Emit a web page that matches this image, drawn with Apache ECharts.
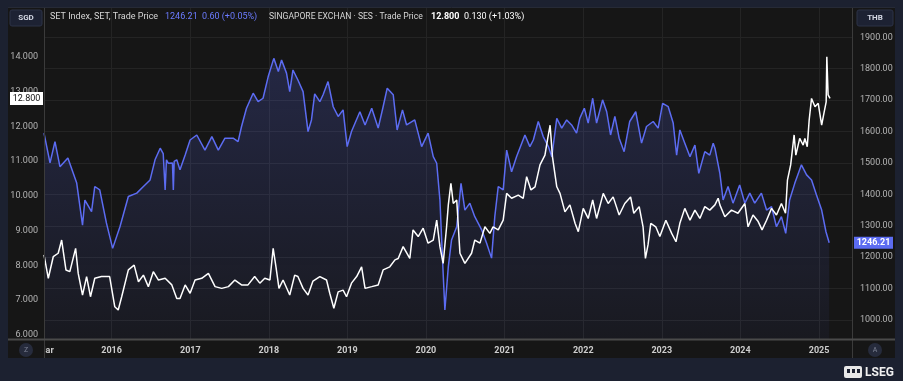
<!DOCTYPE html>
<html><head><meta charset="utf-8">
<script src="https://cdn.jsdelivr.net/npm/echarts@6/dist/echarts.min.js"></script>
<style>
html,body{margin:0;padding:0;background:#1c2130;overflow:hidden;}
#panel{position:absolute;left:8px;top:7px;width:887px;height:351px;background:#161616;}
#chart{position:absolute;left:0;top:0;width:903px;height:381px;}
</style></head><body>
<div id="panel"></div><div id="chart"></div>
<script>
// SET Index (THB, right axis)
const setDates = ['2015-02-21','2015-03-21','2015-04-13','2015-05-06','2015-06-12','2015-07-23','2015-08-19','2015-08-30','2015-09-30','2015-10-15','2015-11-07','2015-12-08','2016-01-06','2016-02-09','2016-03-19','2016-04-27','2016-05-28','2016-06-28','2016-07-21','2016-08-14','2016-08-28','2016-09-06','2016-09-12','2016-09-21','2016-10-10','2016-10-14','2016-10-18','2016-10-30','2016-11-14','2016-12-08','2016-12-31','2017-01-31','2017-03-10','2017-04-11','2017-05-11','2017-06-11','2017-07-19','2017-08-11','2017-08-27','2017-09-19','2017-10-20','2017-11-12','2017-12-05','2017-12-29','2018-01-24','2018-02-14','2018-03-01','2018-03-24','2018-04-08','2018-04-23','2018-05-16','2018-06-09','2018-07-02','2018-07-18','2018-08-02','2018-08-26','2018-09-10','2018-10-03','2018-10-27','2018-11-19','2018-12-12','2018-12-31','2019-01-20','2019-02-28','2019-03-24','2019-04-24','2019-05-24','2019-06-16','2019-07-05','2019-08-02','2019-08-20','2019-09-14','2019-10-03','2019-11-10','2019-12-12','2020-01-11','2020-02-04','2020-02-20','2020-03-06','2020-03-21','2020-03-29','2020-04-14','2020-04-29','2020-05-23','2020-06-12','2020-06-30','2020-07-23','2020-08-15','2020-09-16','2020-10-09','2020-11-01','2020-11-16','2020-12-02','2020-12-25','2021-01-10','2021-02-02','2021-02-25','2021-04-05','2021-04-28','2021-05-14','2021-06-06','2021-06-29','2021-07-23','2021-08-08','2021-08-31','2021-09-23','2021-10-16','2021-11-08','2021-12-01','2021-12-16','2022-01-06','2022-01-24','2022-02-14','2022-03-04','2022-04-01','2022-04-20','2022-05-08','2022-05-28','2022-06-17','2022-07-10','2022-08-05','2022-09-02','2022-09-29','2022-10-22','2022-11-22','2022-12-15','2023-01-05','2023-01-31','2023-02-23','2023-03-11','2023-03-26','2023-04-18','2023-05-12','2023-06-04','2023-06-22','2023-07-20','2023-08-12','2023-08-28','2023-09-05','2023-09-28','2023-10-13','2023-11-05','2023-11-28','2023-12-29','2024-01-22','2024-02-14','2024-03-08','2024-04-08','2024-05-02','2024-05-25','2024-06-17','2024-07-10','2024-07-30','2024-08-17','2024-09-10','2024-10-11','2024-11-04','2024-11-27','2024-12-20','2025-01-13','2025-02-02','2025-02-17'];
const setValues = [1595,1500,1568,1488,1516,1436,1302,1382,1345,1425,1414,1309,1228,1297,1393,1404,1425,1446,1510,1547,1530,1414,1510,1499,1500,1414,1505,1510,1478,1525,1573,1589,1541,1584,1541,1579,1579,1568,1616,1674,1722,1695,1706,1775,1833,1791,1828,1786,1727,1796,1764,1727,1600,1637,1720,1695,1717,1759,1679,1648,1669,1552,1600,1663,1621,1674,1611,1679,1738,1717,1605,1669,1621,1637,1552,1595,1520,1499,1382,1149,1032,1170,1255,1297,1435,1350,1372,1329,1287,1244,1197,1329,1425,1414,1541,1472,1520,1589,1552,1573,1632,1584,1552,1520,1642,1611,1637,1621,1595,1642,1674,1627,1706,1627,1701,1663,1589,1648,1579,1536,1632,1663,1563,1616,1632,1611,1690,1679,1627,1525,1605,1563,1520,1557,1467,1536,1525,1563,1547,1467,1382,1425,1372,1430,1372,1404,1372,1404,1350,1361,1297,1329,1276,1382,1435,1494,1462,1446,1398,1350,1281,1246.21];

// Singapore Exchange (SGD, left axis)
const sgxDates = ['2015-02-21','2015-03-13','2015-04-05','2015-04-28','2015-05-14','2015-06-03','2015-06-21','2015-07-18','2015-07-30','2015-08-19','2015-09-07','2015-09-25','2015-10-15','2015-11-15','2015-12-23','2016-01-16','2016-02-01','2016-02-17','2016-03-19','2016-04-15','2016-05-05','2016-05-28','2016-06-20','2016-07-13','2016-08-06','2016-09-06','2016-10-07','2016-10-30','2016-11-14','2016-12-08','2016-12-31','2017-01-23','2017-02-23','2017-03-26','2017-04-26','2017-05-27','2017-06-27','2017-07-27','2017-08-27','2017-09-26','2017-10-27','2017-11-20','2017-12-13','2018-01-06','2018-01-21','2018-02-03','2018-02-17','2018-03-08','2018-04-08','2018-05-01','2018-05-16','2018-06-09','2018-07-02','2018-07-10','2018-07-25','2018-08-26','2018-09-26','2018-10-11','2018-10-30','2018-11-19','2018-12-12','2018-12-28','2019-01-20','2019-02-13','2019-03-08','2019-03-24','2019-04-24','2019-05-24','2019-06-16','2019-07-17','2019-08-10','2019-08-25','2019-09-17','2019-10-18','2019-11-02','2019-11-26','2019-12-19','2020-01-11','2020-02-04','2020-02-20','2020-03-06','2020-03-21','2020-04-06','2020-04-14','2020-04-26','2020-05-07','2020-05-23','2020-06-07','2020-06-30','2020-07-31','2020-08-15','2020-09-08','2020-10-01','2020-10-24','2020-11-08','2020-12-02','2020-12-25','2021-01-10','2021-02-02','2021-03-05','2021-03-28','2021-04-13','2021-05-03','2021-05-22','2021-06-14','2021-07-07','2021-07-20','2021-07-31','2021-08-11','2021-08-31','2021-09-15','2021-10-08','2021-10-31','2021-11-24','2021-12-09','2022-01-01','2022-01-09','2022-01-24','2022-02-14','2022-03-04','2022-04-04','2022-04-27','2022-05-20','2022-06-17','2022-07-13','2022-08-09','2022-08-24','2022-09-18','2022-10-06','2022-10-17','2022-10-29','2022-11-11','2022-12-04','2022-12-23','2023-01-20','2023-02-16','2023-03-08','2023-03-26','2023-04-18','2023-05-12','2023-06-04','2023-06-27','2023-07-20','2023-08-12','2023-09-05','2023-09-20','2023-09-28','2023-10-21','2023-11-21','2023-12-21','2024-01-22','2024-02-06','2024-02-29','2024-03-24','2024-04-11','2024-05-02','2024-05-25','2024-06-17','2024-07-10','2024-07-29','2024-08-07','2024-08-22','2024-09-07','2024-09-15','2024-10-03','2024-10-19','2024-10-27','2024-11-07','2024-11-16','2024-11-27','2024-12-13','2024-12-28','2025-01-13','2025-01-25','2025-02-03','2025-02-06','2025-02-12','2025-02-21'];
const sgxValues = [8.30,7.63,8.25,8.35,8.73,7.87,7.82,8.49,7.77,7.15,7.68,7.10,7.63,7.68,7.68,6.81,6.72,7.10,7.87,8.01,7.53,7.72,7.39,7.82,7.58,7.63,7.44,7.05,7.05,7.44,7.20,7.58,7.63,7.77,7.39,7.34,7.39,7.58,7.44,7.44,7.68,7.49,7.63,7.58,8.49,7.96,7.34,7.58,7.15,7.72,7.68,7.34,7.15,7.10,7.55,7.68,7.58,7.20,6.77,7.24,7.29,7.10,7.49,7.68,7.96,7.34,7.39,7.44,7.87,7.96,8.16,8.20,8.54,8.20,9.02,8.83,9.07,8.64,8.73,9.30,8.54,8.06,9.11,9.74,10.36,9.78,9.88,8.35,8.06,8.35,8.73,8.64,9.11,8.92,9.11,9.02,9.30,10.07,9.93,10.02,9.93,10.55,10.17,10.26,10.89,11.17,11.65,12.03,11.12,10.26,10.07,9.54,9.74,9.21,8.97,9.64,9.59,9.35,9.88,9.35,10.07,9.78,9.97,9.45,9.78,9.97,9.50,9.69,9.11,8.20,8.59,9.21,9.11,8.83,9.30,8.92,8.68,9.21,9.64,9.30,9.59,9.35,9.69,9.59,9.74,9.93,9.74,9.40,9.59,9.50,9.78,9.11,9.45,9.26,9.02,9.30,9.64,9.45,9.78,9.50,10.45,10.89,11.75,11.17,11.65,11.46,11.65,11.41,12.18,12.80,12.56,12.66,12.03,12.42,12.70,14.00,12.90,12.80];

const yearTickDates = ['2016-01-01','2017-01-01','2018-01-01','2019-01-01','2020-01-01','2021-01-01','2022-01-01','2023-01-01','2024-01-01','2025-01-01'];
const xLabelDates = ['2015-03-01'].concat(yearTickDates);
const xRange = ['2015-02-21', '2025-06-03'];
const sgdTicks = [6,7,8,9,10,11,12,13,14];
const thbTicks = [1000,1100,1200,1300,1400,1500,1600,1700,1800,1900];
const setLast = 1246.21, sgxLast = 12.80;

const ts = s => Date.parse(s + 'T00:00:00Z');
const chart = echarts.init(document.getElementById('chart'));
const PANEL = '#161616', GRID = '#242424', AXIS = '#3b3b3b';
const FONT = 'Roboto, "Noto Sans", sans-serif';

chart.setOption({
  backgroundColor: 'transparent',
  animation: false,
  grid: { left: 44, right: 51, top: 7, bottom: 42 },
  xAxis: {
    type: 'value', min: ts(xRange[0]), max: ts(xRange[1]),
    axisLine: { show: false },
    axisTick: { show: false, customValues: yearTickDates.map(ts) },
    splitLine: { show: true, lineStyle: { color: GRID, width: 1 } },
    axisLabel: {
      customValues: xLabelDates.map(ts), margin: 7, color: '#cdcdcd', fontSize: 9, fontWeight: 'bold', fontFamily: FONT,
      formatter: function (v) { const d = new Date(v); return d.getUTCMonth() === 0 ? String(d.getUTCFullYear()) : 'Mar'; }
    }
  },
  yAxis: [
    { type: 'value', position: 'left', min: 5.885, max: 15.428,
      axisLine: { show: false }, axisTick: { show: false, customValues: sgdTicks }, splitLine: { show: false },
      axisLabel: { customValues: sgdTicks, margin: 6, color: '#b4b4b4', fontSize: 9, fontFamily: FONT,
        formatter: v => v.toFixed(3) } },
    { type: 'value', position: 'right', min: 939.5, max: 1996.5,
      axisLine: { show: false }, axisTick: { show: false, customValues: thbTicks },
      splitLine: { show: true, lineStyle: { color: GRID, width: 1 } },
      axisLabel: { customValues: thbTicks, margin: 8, color: '#b4b4b4', fontSize: 9, fontFamily: FONT,
        formatter: v => v.toFixed(2) } }
  ],
  series: [
    { name: 'SET Index', type: 'line', yAxisIndex: 1, showSymbol: false, symbol: 'none', z: 2,
      data: setDates.map((d, i) => [ts(d), setValues[i]]),
      lineStyle: { color: '#5c6cf2', width: 1.5 },
      areaStyle: { color: new echarts.graphic.LinearGradient(0, 0, 0, 1, [
        { offset: 0, color: 'rgba(92,108,242,0.30)' }, { offset: 1, color: 'rgba(92,108,242,0.07)' }]) } },
    { name: 'Singapore Exchange', type: 'line', yAxisIndex: 0, showSymbol: false, symbol: 'none', z: 3,
      data: sgxDates.map((d, i) => [ts(d), sgxValues[i]]),
      lineStyle: { color: '#ffffff', width: 1.5 } }
  ]
});

const ySgx = chart.convertToPixel({ yAxisIndex: 0 }, sgxLast);
const ySet = chart.convertToPixel({ yAxisIndex: 1 }, setLast);
const txt = (x, y, s, fill, size, weight, align) => ({ type: 'text', x: x, y: y, z: 120,
  style: { text: s, fill: fill, fontSize: size, fontWeight: weight || 'normal', fontFamily: FONT,
    align: align || 'left', verticalAlign: 'middle' } });

chart.setOption({
  graphic: [
    { type: 'line', z: 50, shape: { x1: 44.5, y1: 7, x2: 44.5, y2: 358 }, style: { stroke: AXIS, lineWidth: 1 } },
    { type: 'line', z: 50, shape: { x1: 852.5, y1: 7, x2: 852.5, y2: 358 }, style: { stroke: AXIS, lineWidth: 1 } },
    { type: 'line', z: 50, shape: { x1: 8, y1: 339.5, x2: 895, y2: 339.5 }, style: { stroke: '#4a4a4a', lineWidth: 2 } },
    { type: 'line', z: 50, shape: { x1: 8, y1: 7.5, x2: 895, y2: 7.5 }, style: { stroke: '#262a36', lineWidth: 1 } },
    { type: 'rect', z: 60, shape: { x: 8, y: 341, width: 36, height: 17 }, style: { fill: PANEL } },
    { type: 'rect', z: 100, shape: { x: 10, y: 10, width: 32, height: 16, r: 2 }, style: { fill: '#1d2233', stroke: '#2c3246', lineWidth: 1 } },
    txt(26, 18, 'SGD', '#d4d8e4', 8, 'bold', 'center'),
    { type: 'rect', z: 100, shape: { x: 857, y: 10, width: 36, height: 16, r: 2 }, style: { fill: '#1d2233', stroke: '#2c3246', lineWidth: 1 } },
    txt(875, 18, 'THB', '#d4d8e4', 8, 'bold', 'center'),
    txt(50, 17, 'SET Index, SET, Trade Price', '#d6d6d6', 9),
    txt(165, 17, '1246.21', '#6b7bff', 9),
    txt(202, 17, '0.60 (+0.05%)', '#6b7bff', 9),
    txt(269, 17, 'SINGAPORE EXCHAN \u00b7 SES \u00b7 Trade Price', '#d6d6d6', 8.6),
    txt(431, 17, '12.800', '#ffffff', 9, 'bold'),
    txt(464, 17, '0.130 (+1.03%)', '#ffffff', 9),
    { type: 'rect', z: 110, shape: { x: 10, y: ySgx - 6.5, width: 33, height: 13 }, style: { fill: '#ffffff' } },
    txt(26.5, ySgx + 0.5, '12.800', '#111111', 9, 'normal', 'center'),
    { type: 'rect', z: 110, shape: { x: 854, y: ySet - 6, width: 39, height: 12 }, style: { fill: '#5c6cf2' } },
    txt(873.5, ySet + 0.5, '1246.21', '#ffffff', 9, 'bold', 'center'),
    { type: 'circle', z: 100, shape: { cx: 26, cy: 350, r: 7 }, style: { fill: '#262b3c' } },
    txt(26, 350.5, 'Z', '#7d8294', 7, 'normal', 'center'),
    { type: 'circle', z: 100, shape: { cx: 875, cy: 350, r: 7 }, style: { fill: '#262b3c' } },
    txt(875, 350.5, 'A', '#7d8294', 7, 'normal', 'center'),
    { type: 'rect', z: 100, shape: { x: 844, y: 366, width: 18, height: 12, r: 2 }, style: { fill: '#e8e8e8' } },
    { type: 'rect', z: 101, shape: { x: 847, y: 369, width: 3, height: 4 }, style: { fill: '#1c2130' } },
    { type: 'rect', z: 101, shape: { x: 852, y: 369, width: 3, height: 4 }, style: { fill: '#1c2130' } },
    { type: 'rect', z: 101, shape: { x: 857, y: 369, width: 3, height: 4 }, style: { fill: '#1c2130' } },
    txt(865, 373, 'LSEG', '#f0f0f0', 12, 'bold')
  ]
});
</script>
</body></html>
